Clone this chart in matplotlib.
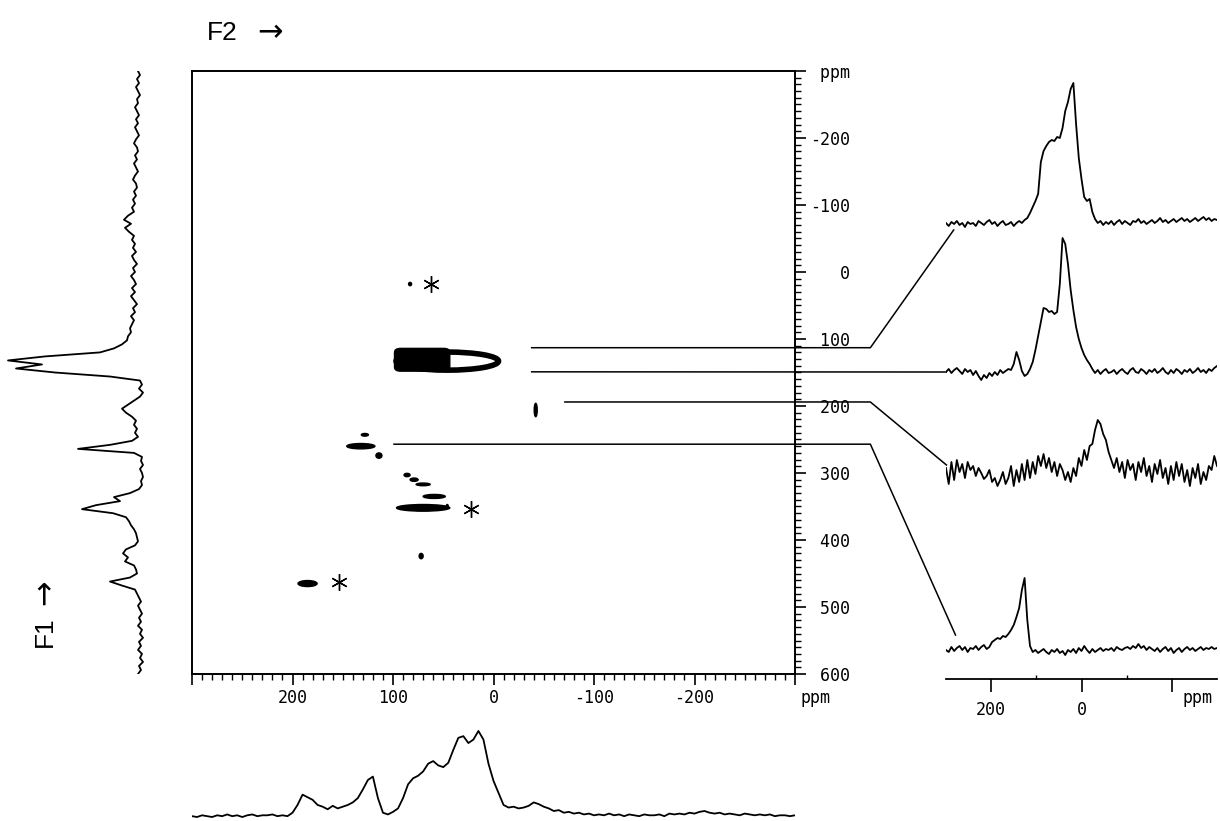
import numpy as np
import matplotlib
matplotlib.use('Agg')
import matplotlib.pyplot as plt
from matplotlib.patches import Ellipse, FancyBboxPatch
from matplotlib.lines import Line2D
from matplotlib.ticker import MultipleLocator, FixedLocator

# ---- data ----
# F1 projection (left), one value every 6 ppm from -300 to 600
f1_proj = [2, 0, 3, 1, 4, 2, 0, 3, 2, 5, 3, 1, 4, 2, 5, 3, 1, 4, 6, 3,
           2, 5, 3, 6, 4, 2, 5, 7, 4, 3, 6, 4, 7, 5, 8, 6, 12, 16, 9, 15,
           11, 6, 8, 5, 7, 4, 8, 6, 3, 7, 5, 9, 6, 4, 8, 5, 9, 6, 3, 7,
           5, 9, 6, 8, 10, 9, 12, 13, 18, 26, 40, 95, 132, 98, 124, 85, 30, 0, -2, 1,
           -3, 0, 6, 12, 18, 14, 8, 4, 6, 3, 5, 2, 8, 30, 62, 6, -2, -1, -3, 0,
           -2, -3, -1, -2, 1, 10, 26, 20, 44, 58, 27, 14, 11, 9, 6, 4, 3, 2, 5, 14,
           17, 12, 15, 6, 4, 3, 10, 30, 18, 5, 3, 1, -1, 2, 0, -2, 1, -1, 2, -2,
           0, -3, 1, -1, 2, -2, 0, -3, 1, -1, 2]

# F2 projection (bottom), one value every 5 ppm from 300 to -300
f2_proj = [0.01, 0.0, 0.02, 0.01, 0.0, 0.02, 0.01, 0.03, 0.01, 0.02, 0.0, 0.02, 0.03, 0.01, 0.02,
           0.02, 0.03, 0.01, 0.02, 0.01, 0.05, 0.14, 0.26, 0.23, 0.20, 0.14, 0.12, 0.09, 0.13, 0.10,
           0.12, 0.14, 0.17, 0.22, 0.32, 0.43, 0.47, 0.22, 0.05, 0.03, 0.06, 0.10, 0.22, 0.38, 0.45,
           0.48, 0.53, 0.62, 0.65, 0.60, 0.58, 0.63, 0.78, 0.92, 0.94, 0.86, 0.90, 1.0, 0.90, 0.62,
           0.42, 0.28, 0.14, 0.11, 0.12, 0.10, 0.11, 0.13, 0.17, 0.15, 0.12, 0.10, 0.07, 0.08, 0.05,
           0.06, 0.04, 0.05, 0.03, 0.04, 0.02, 0.03, 0.02, 0.04, 0.02, 0.03, 0.01, 0.03, 0.02, 0.01,
           0.03, 0.02, 0.02, 0.03, 0.01, 0.04, 0.03, 0.04, 0.03, 0.05, 0.04, 0.06, 0.07, 0.05, 0.04,
           0.05, 0.03, 0.04, 0.03, 0.02, 0.04, 0.03, 0.02, 0.03, 0.02, 0.03, 0.01, 0.02, 0.02, 0.01,
           0.02]

# F2 slices (right), one value every 6 ppm from 300 to -300
slice_117 = [1, -2, 2, 0, 3, -1, 1, -3, 2, 0, 1, -2, 3, 1, -1, 2, 4, 0, 2, -2,
             1, 3, -1, 0, 2, -2, 1, 3, 1, 4, 6, 11, 17, 23, 30, 62, 73, 78, 82, 84,
             83, 87, 86, 96, 113, 122, 135, 141, 100, 66, 45, 27, 23, 25, 12, 5, 1, 3, -1, 2,
             0, 3, -1, 2, 4, 0, 3, 1, -1, 3, 2, 5, 1, 3, 0, 2, 4, 1, 3, 6,
             2, 4, 1, 3, 5, 2, 4, 6, 3, 5, 2, 4, 6, 3, 5, 7, 4, 6, 3, 5, 4]
slice_149 = [0, 3, -1, 2, 4, 1, -2, 3, 0, 2, -3, 1, -4, -8, -3, -6, -1, -4, 0, -3,
             2, -1, 1, 3, 2, 8, 20, 12, 1, -4, -2, 3, 10, 22, 36, 50, 64, 63, 60, 61,
             58, 60, 88, 134, 128, 108, 82, 62, 45, 33, 24, 17, 12, 8, 3, -1, 2, -2, 1, 3,
             -1, 0, 2, -2, 1, 3, 0, -2, 2, 4, 0, -1, 3, 1, -2, 2, 0, 3, -1, 1,
             4, 0, -2, 2, -1, 3, 1, -2, 2, 0, 3, -1, 1, 4, 0, 2, -1, 3, 1, 4, 6]
slice_200 = [6, -10, 12, -6, 14, 2, 10, -4, 12, 4, 8, -2, 6, 1, -5, -2, 4, -8, -4, -12,
             -6, 2, -10, -4, 8, -12, 4, -8, 10, -6, 14, -4, 12, 0, 18, 8, 20, 6, 16, 2,
             12, -2, 10, 4, -6, 2, -8, 6, -2, 16, 8, 24, 14, 28, 30, 44, 54, 50, 40, 34,
             22, 14, 6, 16, 2, 12, -4, 14, 4, 10, -6, 12, 2, 16, -2, 8, -8, 10, 0, 14,
             -4, 6, -10, 8, -6, 12, -2, 10, -8, 4, -12, 6, -4, 10, -10, 2, -6, 8, 4, 18, 8]
slice_257 = [0, -2, 3, -1, 2, 4, 0, 3, -2, 2, 1, 4, 0, 3, 5, 1, 3, 8, 10, 12,
             11, 14, 13, 16, 20, 25, 33, 42, 60, 72, 30, 4, -2, 0, -3, -1, 1, -2, -4, 0,
             -2, 1, -3, -1, -5, 0, -2, 1, -3, 2, -1, 4, 0, -3, 1, -2, 0, 2, -1, 1,
             0, 2, -1, 3, 1, 0, 2, 3, 1, 4, 2, 6, 2, 4, 0, 3, 1, -1, 2, -2,
             1, 3, -1, 2, -3, 0, 2, -2, 1, 3, 0, 2, -1, 1, 3, 0, 2, 1, 3, 1, 2]
slices = [slice_117, slice_149, slice_200, slice_257]

# cross peaks (F2 ppm, F1 ppm, F2 width, F1 width)
peak_f2 = [83, 132, 128, 114, 86, 79, 70, 59, 70, 72, 185, -42, 46]
peak_f1 = [18, 260, 243, 274, 303, 310, 317, 335, 352, 424, 465, 206, 350]
peak_w2 = [3, 28, 7, 6, 6, 8, 14, 22, 53, 4, 19, 3, 2]
peak_w1 = [5, 8, 4, 8, 5, 5, 4, 6, 10, 8, 9, 20, 6]
# the large cross peak near F1 = 130: dense block plus outer contour
block_f2, block_f1, block_w2, block_w1 = 71, 131, 55, 34
ring_f2, ring_f1, ring_w2, ring_w1 = 46, 133, 102, 27
star_f2 = [62, 22, 154]
star_f1 = [18, 354, 463]

# slice rows: F1 level, F2 where the line starts
row_f1 = [113, 149, 194, 257]
row_start = [-38, -38, -71, 99]

# ---- layout ----
W, H = 1220, 821
fig = plt.figure(figsize=(W / 100, H / 100), dpi=100)
mono = 'DejaVu Sans Mono'


def box(x0, y0, x1, y1):
    return [x0 / W, 1 - y1 / H, (x1 - x0) / W, (y1 - y0) / H]


ax = fig.add_axes(box(192, 71, 795, 674))
axl = fig.add_axes(box(0, 71, 145, 674))
axb = fig.add_axes(box(192, 729, 795, 819))
axr = fig.add_axes(box(946, 75, 1217, 679))

# main 2D plot
ax.set_xlim(300, -300)
ax.set_ylim(600, -300)
for e in ax.spines.values():
    e.set_linewidth(1.4)
for x, y, w, h in zip(peak_f2, peak_f1, peak_w2, peak_w1):
    ax.add_patch(Ellipse((x, y), w, h, facecolor='black', edgecolor='black', lw=1))
ax.add_patch(FancyBboxPatch((block_f2 - block_w2 / 2, block_f1 - block_w1 / 2), block_w2, block_w1,
                            boxstyle='round,pad=0,rounding_size=6', facecolor='black', edgecolor='black'))
ax.add_patch(Ellipse((ring_f2, ring_f1), ring_w2, ring_w1, facecolor='none', edgecolor='black', lw=4))
ax.plot(star_f2, star_f1, ls='none', marker=(6, 2, 0), ms=12, mew=1.0, color='black')

ax.xaxis.set_ticks_position('bottom')
ax.yaxis.set_ticks_position('right')
ax.xaxis.set_major_locator(FixedLocator(range(300, -301, -100)))
ax.xaxis.set_minor_locator(MultipleLocator(10))
ax.yaxis.set_major_locator(FixedLocator(range(-300, 601, 100)))
ax.yaxis.set_minor_locator(MultipleLocator(10))
ax.set_xticklabels(['', '200', '100', '0', '-100', '-200', ''])
ax.set_yticklabels([' ppm'] + [f'{v:>4d}' for v in range(-200, 601, 100)])
ax.tick_params(which='major', direction='out', length=8, width=1.2, labelsize=12, pad=3)
ax.tick_params(which='minor', direction='out', length=4, width=1)
for t in ax.get_xticklabels() + ax.get_yticklabels():
    t.set_fontfamily(mono)
fig.text(815 / W, 1 - 698 / H, 'ppm', family=mono, fontsize=12, ha='center', va='center')

# F1 projection
f1_ppm = np.linspace(-300, 600, len(f1_proj))
axl.plot(f1_proj, f1_ppm, color='black', lw=1.3)
axl.set_xlim(140, -5)
axl.set_ylim(600, -300)
axl.axis('off')

# F2 projection
f2_ppm = np.linspace(300, -300, len(f2_proj))
axb.plot(f2_ppm, f2_proj, color='black', lw=1.3)
axb.set_xlim(300, -300)
axb.set_ylim(-0.023, 1.023)
axb.axis('off')

# F2 slices
base = [455, 307, 205, 29]
s_ppm = np.linspace(300, -300, len(slice_117))
for s, b in zip(slices, base):
    axr.plot(s_ppm, np.array(s) + b, color='black', lw=1.3)
axr.set_xlim(300, -300)
axr.set_ylim(0, 604)
for k in ['left', 'right', 'top']:
    axr.spines[k].set_visible(False)
axr.spines['bottom'].set_linewidth(1.3)
axr.set_yticks([])
axr.set_xticks([200, 0, -200])
axr.set_xticklabels(['200', '0', ''], family=mono, fontsize=12)
axr.set_xticks([100, -100], minor=True)
axr.tick_params(which='major', direction='out', length=9, width=1.2, pad=7)
axr.tick_params(which='minor', direction='in', length=3, width=1)
fig.text(1197 / W, 1 - 698 / H, 'ppm', family=mono, fontsize=12, ha='center', va='center')

# connector lines from the 2D plot to the slices
bend_f2 = -375
end_f2 = [283, 300, 299, 279]
end_dy = [-6, 0, 9, 15]
inv = fig.transFigure.inverted()
for f1, x0, xe, dy, b in zip(row_f1, row_start, end_f2, end_dy, base):
    p0 = inv.transform(ax.transData.transform((x0, f1)))
    p1 = inv.transform(ax.transData.transform((bend_f2, f1)))
    p2 = inv.transform(axr.transData.transform((xe, b + dy)))
    if dy == 0:
        p1 = p0
    fig.add_artist(Line2D([p0[0], p1[0], p2[0]], [p0[1], p1[1], p2[1]],
                          transform=fig.transFigure, color='black', lw=1.1))

# axis names
fig.text(207 / W, 1 - 33 / H, 'F2', family='Liberation Sans', fontsize=19, ha='left', va='center')
fig.text(270 / W, 1 - 33 / H, '\u2192', family='DejaVu Sans', fontsize=22, ha='center', va='center')
fig.text(45 / W, 1 - 632 / H, 'F1', family='Liberation Sans', fontsize=19, rotation=90, ha='center', va='center')
fig.text(45 / W, 1 - 592 / H, '\u2192', family='DejaVu Sans', fontsize=22, rotation=90, ha='center', va='center')

fig.savefig('out.png', dpi=100)
